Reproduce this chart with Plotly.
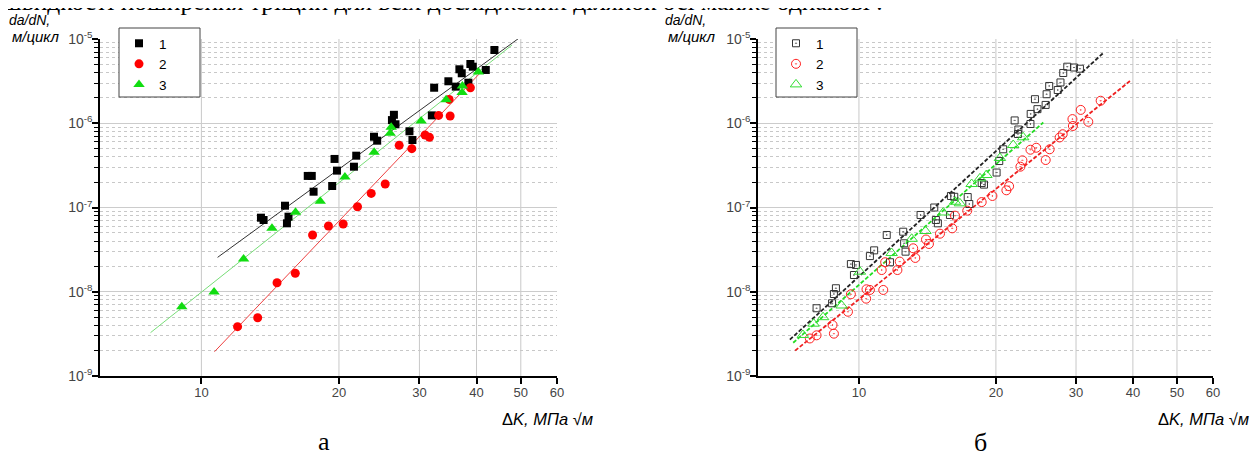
import plotly.graph_objects as go

# ---------------- Panel "а" data ----------------
a_k1 = [13.50, 13.68, 15.24, 15.51, 15.39, 17.09, 17.44, 17.60, 19.33, 19.56, 19.80, 21.82, 21.57,
        23.86, 24.25, 26.38, 26.12, 26.59, 28.53, 28.96, 31.94, 32.31, 34.71, 36.03, 36.69, 37.13,
        38.39, 38.78, 39.25, 41.91, 43.77]
a_v1 = [7.57e-8, 7.11e-8, 1.05e-7, 7.78e-8, 6.49e-8, 2.37e-7, 2.37e-7, 1.54e-7, 1.80e-7, 3.77e-7,
        2.74e-7, 4.12e-7, 3.05e-7, 6.92e-7, 6.21e-7, 1.26e-6, 1.09e-6, 9.72e-7, 8.03e-7, 6.33e-7,
        1.24e-6, 2.64e-6, 3.15e-6, 2.72e-6, 4.37e-6, 3.92e-6, 3.03e-6, 5.05e-6, 4.69e-6, 4.29e-6, 7.40e-6]
a_k2 = [12.00, 13.28, 14.64, 16.05, 17.51, 18.97, 20.43, 21.96, 23.53, 25.25, 27.09, 28.87, 30.87,
        31.55, 33.04, 35.02, 34.84, 38.78]
a_v2 = [3.85e-9, 4.92e-9, 1.28e-8, 1.66e-8, 4.72e-8, 6.03e-8, 6.37e-8, 1.02e-7, 1.47e-7, 1.90e-7,
        5.47e-7, 4.99e-7, 7.26e-7, 6.81e-7, 1.24e-6, 1.22e-6, 1.92e-6, 2.64e-6]
a_k3 = [9.06, 10.66, 12.37, 14.27, 16.07, 18.20, 20.61, 23.88, 25.89, 26.02, 30.26, 34.32, 37.25,
        37.19, 40.37]
a_v3 = [6.65e-9, 9.93e-9, 2.45e-8, 5.66e-8, 8.77e-8, 1.19e-7, 2.30e-7, 4.53e-7, 7.60e-7, 8.95e-7,
        1.06e-6, 1.90e-6, 2.77e-6, 2.32e-6, 4.06e-6]
# fitted lines (end points)
a_fit1_k = [10.85, 49.5]
a_fit1_v = [2.56e-8, 1.02e-5]
a_fit2_k = [10.68, 40.93]
a_fit2_v = [1.94e-9, 4.06e-6]
a_fit3_k = [7.74, 47.83]
a_fit3_v = [3.27e-9, 8.49e-6]

# ---------------- Panel "б" data ----------------
b_k1 = [8.07, 8.73, 8.81, 8.90, 9.75, 9.60, 9.85, 10.57, 10.80, 11.51, 11.70, 12.51, 12.57, 12.66,
        13.66, 14.64, 14.76, 14.91, 15.85, 15.93, 16.20, 17.34, 17.48, 18.61, 18.83, 20.07, 20.34,
        20.75, 21.99, 22.41, 22.36, 23.82, 23.85, 24.68, 24.37, 25.72, 25.85, 26.19, 27.35, 27.73,
        28.12, 28.70, 29.69, 30.60]
b_v1 = [6.37e-9, 7.30e-9, 9.40e-9, 1.10e-8, 1.58e-8, 2.13e-8, 2.08e-8, 2.65e-8, 3.10e-8, 4.72e-8,
        2.24e-8, 5.16e-8, 3.76e-8, 2.99e-8, 8.15e-8, 1.00e-7, 7.11e-8, 6.49e-8, 8.15e-8, 1.37e-7,
        1.34e-7, 1.33e-7, 1.10e-7, 1.95e-7, 1.87e-7, 2.60e-7, 3.56e-7, 4.91e-7, 1.08e-6, 8.43e-7,
        7.45e-7, 9.80e-7, 1.29e-6, 1.47e-6, 1.93e-6, 1.65e-6, 2.21e-6, 2.77e-6, 2.48e-6, 3.05e-6,
        3.95e-6, 4.69e-6, 4.59e-6, 4.44e-6]
b_k2 = [7.80, 8.07, 8.75, 8.81, 9.46, 9.60, 10.37, 10.39, 10.57, 11.31, 11.22, 11.42, 12.15, 12.29,
        13.16, 13.30, 14.04, 14.25, 15.07, 16.03, 16.26, 17.30, 18.61, 19.65, 21.09, 21.38, 22.64,
        22.87, 23.82, 24.53, 25.73, 26.25, 27.61, 28.04, 29.46, 29.53, 30.72, 31.92, 33.98]
b_v2 = [2.79e-9, 3.04e-9, 4.03e-9, 3.18e-9, 5.79e-9, 9.33e-9, 8.28e-9, 1.07e-8, 1.05e-8, 1.05e-8,
        1.81e-8, 2.24e-8, 1.81e-8, 2.28e-8, 3.28e-8, 2.52e-8, 4.17e-8, 3.69e-8, 4.89e-8, 5.66e-8,
        8.00e-8, 9.17e-8, 1.16e-7, 1.37e-7, 1.60e-7, 1.79e-7, 3.05e-7, 3.63e-7, 4.85e-7, 5.12e-7,
        3.66e-7, 4.91e-7, 6.78e-7, 7.41e-7, 1.12e-6, 9.28e-7, 1.44e-6, 1.04e-6, 1.85e-6]
b_k3 = [7.53, 7.95, 8.34, 9.16, 10.05, 11.80, 13.06, 14.00, 15.32, 16.26, 16.67, 17.69, 18.45,
        19.06, 20.41, 21.83, 22.96]
b_v3 = [3.07e-9, 4.18e-9, 4.99e-9, 6.87e-9, 1.73e-8, 2.88e-8, 4.25e-8, 5.26e-8, 8.73e-8, 1.17e-7,
        1.12e-7, 1.90e-7, 2.22e-7, 2.43e-7, 3.87e-7, 5.52e-7, 6.81e-7]
b_fit1_k = [7.05, 34.56]
b_fit1_v = [2.70e-9, 6.95e-6]
b_fit2_k = [7.24, 39.41]
b_fit2_v = [2.0e-9, 3.17e-6]
b_fit3_k = [7.17, 25.42]
b_fit3_v = [2.48e-9, 1.02e-6]

series_names = ["1", "2", "3"]
x_ticks = [10, 20, 30, 40, 50, 60]
x_grid = [10, 20, 30, 40, 50]
y_ticks = [1e-9, 1e-8, 1e-7, 1e-6, 1e-5]
y_ticktext = ["10<sup>-9</sup>", "10<sup>-8</sup>", "10<sup>-7</sup>", "10<sup>-6</sup>", "10<sup>-5</sup>"]
y_minor = [m * 10.0 ** e for e in range(-9, -5) for m in range(2, 10)]

top_text = "швидкості поширення тріщин для всіх досліджених ділянок осі майже однакові ."

# the page body adds an 8px margin, so the figure is 8px smaller and layout
# positions below are given in page pixels and converted
OFF = 8
W, H = 1260 - OFF, 457 - OFF
SANS = "Arial, Liberation Sans, sans-serif"
SERIF = "Times New Roman, Liberation Serif, serif"


def px(p):
    return (p - OFF) / W


def py(p):
    return (H - (p - OFF)) / H


fig = go.Figure()

# ---- panel а: fit lines ----
for k, v, c in [(a_fit1_k, a_fit1_v, "#333333"), (a_fit2_k, a_fit2_v, "#ee4040"),
                (a_fit3_k, a_fit3_v, "#77dd77")]:
    fig.add_trace(go.Scatter(x=k, y=v, mode="lines", line=dict(color=c, width=1),
                             showlegend=False, xaxis="x", yaxis="y", hoverinfo="skip"))
# ---- panel а: markers ----
fig.add_trace(go.Scatter(x=a_k1, y=a_v1, mode="markers", name=series_names[0],
                         marker=dict(symbol="square", size=8, color="#000000"),
                         xaxis="x", yaxis="y", legend="legend"))
fig.add_trace(go.Scatter(x=a_k2, y=a_v2, mode="markers", name=series_names[1],
                         marker=dict(symbol="circle", size=9, color="#ff0000"),
                         xaxis="x", yaxis="y", legend="legend"))
fig.add_trace(go.Scatter(x=a_k3, y=a_v3, mode="markers", name=series_names[2],
                         marker=dict(symbol="triangle-up", size=10, color="#11dd11"),
                         xaxis="x", yaxis="y", legend="legend"))

# ---- panel б: fit lines ----
for k, v, c in [(b_fit1_k, b_fit1_v, "#222222"), (b_fit2_k, b_fit2_v, "#ee2020"),
                (b_fit3_k, b_fit3_v, "#22dd22")]:
    fig.add_trace(go.Scatter(x=k, y=v, mode="lines", line=dict(color=c, width=1.8, dash="4px,2px"),
                             showlegend=False, xaxis="x2", yaxis="y2", hoverinfo="skip"))
# ---- panel б: markers ----
fig.add_trace(go.Scatter(x=b_k1, y=b_v1, mode="markers", name=series_names[0],
                         marker=dict(symbol="square-open-dot", size=7, color="#333333",
                                     line=dict(width=1, color="#333333")),
                         xaxis="x2", yaxis="y2", legend="legend2"))
fig.add_trace(go.Scatter(x=b_k2, y=b_v2, mode="markers", name=series_names[1],
                         marker=dict(symbol="circle-open-dot", size=9, color="#ff2020",
                                     line=dict(width=1, color="#ff2020")),
                         xaxis="x2", yaxis="y2", legend="legend2"))
fig.add_trace(go.Scatter(x=b_k3, y=b_v3, mode="markers", name=series_names[2],
                         marker=dict(symbol="triangle-up-open", size=10, color="#33dd33",
                                     line=dict(width=1, color="#33dd33")),
                         xaxis="x2", yaxis="y2", legend="legend2"))

ydom = [py(376), py(39)]
xdom1 = [px(100), px(557)]
xdom2 = [px(758), px(1213)]


def xaxis(dom, anchor):
    return dict(type="log", domain=dom, anchor=anchor, range=[0.77815, 1.77815], automargin=False,
                tickmode="array", tickvals=x_ticks, ticktext=[str(t) for t in x_ticks],
                ticks="outside", ticklen=6, tickwidth=1.5, tickcolor="#000000",
                ticklabelstandoff=-3,
                showline=True, linecolor="#000000", linewidth=2,
                showgrid=False, zeroline=False,
                tickfont=dict(family=SANS, size=13, color="#444444"))


def yaxis(anchor):
    return dict(type="log", domain=ydom, anchor=anchor, range=[-9, -5], automargin=False,
                tickmode="array", tickvals=y_ticks, ticktext=y_ticktext,
                ticks="outside", ticklen=6, tickwidth=1.5, tickcolor="#000000",
                ticklabelstandoff=-3,
                showline=True, linecolor="#000000", linewidth=1.5,
                showgrid=True, gridcolor="#cccccc", gridwidth=1, zeroline=False,
                minor=dict(tickvals=y_minor, ticks="outside", ticklen=4, tickwidth=1,
                           tickcolor="#000000", showgrid=True, gridcolor="#c8c8c8",
                           griddash="dot", gridwidth=1),
                tickfont=dict(family=SANS, size=14, color="#444444"))


legend_common = dict(xanchor="left", yanchor="top", bgcolor="rgba(0,0,0,0)",
                     borderwidth=0,
                     font=dict(family=SANS, size=13.5, color="#000000"),
                     itemsizing="trace", tracegroupgap=0)

fig.update_layout(
    width=W, height=H, margin=dict(l=0, r=0, t=0, b=0, pad=0, autoexpand=False),
    paper_bgcolor="#ffffff", plot_bgcolor="#ffffff",
    xaxis=xaxis(xdom1, "y"), yaxis=yaxis("x"),
    xaxis2=xaxis(xdom2, "y2"), yaxis2=yaxis("x2"),
    legend=dict(x=px(119), y=py(28), **legend_common),
    legend2=dict(x=px(776), y=py(28), **legend_common),
)

shapes = []
# vertical grid lines at the labelled values (none at the right edge, 60)
for xr, yr in (("x", "y domain"), ("x2", "y2 domain")):
    for g in x_grid:
        shapes.append(dict(type="line", xref=xr, yref=yr, x0=g, x1=g, y0=0, y1=1,
                           line=dict(color="#c8c8c8", width=1), layer="below"))
# legend frames
for lx in (119, 776):
    shapes.append(dict(type="rect", xref="paper", yref="paper",
                       x0=px(lx), x1=px(lx + 81), y0=py(97), y1=py(28),
                       line=dict(color="#444444", width=1), fillcolor="#ffffff", layer="above"))
fig.update_layout(shapes=shapes)

annotations = [
    dict(text=top_text, x=px(0), y=(H - 10.5) / H, xanchor="left", yanchor="bottom",
         font=dict(family=SERIF, size=25.5, color="#000000")),
]
for x0, xr in [(7, 595), (663, 1251)]:
    annotations += [
        dict(text="<i>da/dN,</i>", x=px(x0), y=py(20), xanchor="left", yanchor="middle",
             font=dict(family=SANS, size=14, color="#000000")),
        dict(text="<i>м/цикл</i>", x=px(x0 + 3), y=py(37), xanchor="left", yanchor="middle",
             font=dict(family=SANS, size=15, color="#000000")),
        dict(text="Δ<i>K, МПа √м</i>", x=px(xr), y=py(419), xanchor="right", yanchor="middle",
             font=dict(family=SANS, size=16.5, color="#000000")),
    ]
annotations += [
    dict(text="а", x=px(324), y=py(441), xanchor="center", yanchor="middle",
         font=dict(family=SERIF, size=26, color="#000000")),
    dict(text="б", x=px(980), y=py(442), xanchor="center", yanchor="middle",
         font=dict(family=SERIF, size=26, color="#000000")),
]
for a in annotations:
    a.update(xref="paper", yref="paper", showarrow=False)
fig.update_layout(annotations=annotations)

fig.write_html("out.html")
